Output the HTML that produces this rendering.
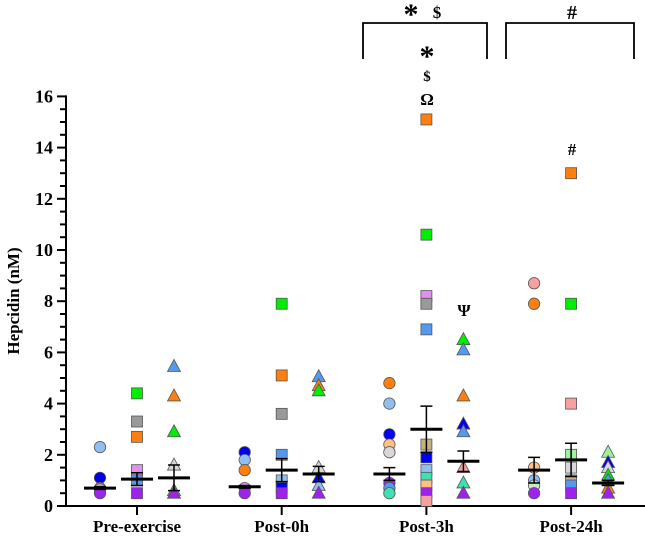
<!DOCTYPE html>
<html><head><meta charset="utf-8">
<style>
html,body{margin:0;padding:0;background:#fff;}
svg text{font-family:"Liberation Serif",serif;font-weight:bold;fill:#000;}
</style></head>
<body>
<svg id="chart" width="645" height="541" viewBox="0 0 645 541" xmlns="http://www.w3.org/2000/svg"></svg>
<script>
const categories = ["Pre-exercise","Post-0h","Post-3h","Post-24h"];
const yTicks = [0,2,4,6,8,10,12,14,16];
// each subgroup: [color, value]
const circles = [
 [["#8fbff0",2.3],["#0000ee",1.1],["#ff7f0e",0.7],["#aaaaaa",0.65],["#a020f0",0.5]],
 [["#0000ee",2.1],["#8fbff0",1.8],["#ff7f0e",1.4],["#e090f0",0.7],["#a020f0",0.5]],
 [["#ff7f0e",4.8],["#8fbff0",4.0],["#0000ee",2.8],["#ffc080",2.4],["#d8d8d8",2.1],["#a020f0",0.9],["#5599ee",0.7],["#40e0b0",0.5]],
 [["#f7a0a0",8.7],["#ff7f0e",7.9],["#ffc080",1.5],["#8fbff0",1.0],["#c8e8c8",0.8],["#a020f0",0.5]]
];
const squares = [
 [["#00ee00",4.4],["#999999",3.3],["#ff7f0e",2.7],["#e090f0",1.4],["#5599ee",1.0],["#a020f0",0.5]],
 [["#00ee00",7.9],["#ff7f0e",5.1],["#999999",3.6],["#5599ee",2.0],["#8fbff0",1.0],["#0000ee",0.7],["#a020f0",0.5]],
 [["#ff7f0e",15.1],["#00ee00",10.6],["#e090f0",8.2],["#999999",7.9],["#5599ee",6.9],["#c8b080",2.4],["#0000ee",1.9],["#8fbff0",1.4],["#40e0b0",1.1],["#ffc080",0.8],["#a020f0",0.5],["#f7a0a0",0.2]],
 [["#ff7f0e",13.0],["#00ee00",7.9],["#f7a0a0",4.0],["#a0f0a0",2.0],["#d8d8d8",1.5],["#c8b080",1.0],["#5599ee",0.8],["#a020f0",0.5]]
];
const triangles = [
 [["#5599ee",5.45],["#ff7f0e",4.3],["#00ee00",2.9],["#d8d8d8",1.6],["#999999",0.6],["#a020f0",0.5]],
 [["#5599ee",5.05],["#ff7f0e",4.7],["#00ee00",4.5],["#d8d8d8",1.5],["#0000ee",1.1],["#8fbff0",0.8],["#a020f0",0.5]],
 [["#00ee00",6.5],["#5599ee",6.1],["#ff7f0e",4.3],["#0000ee",3.2],["#5599ee",2.9],["#f7a0a0",1.5],["#40e0b0",0.9],["#a020f0",0.5]],
 [["#a0f0a0",2.1],["#0000ee",1.7],["#d8d8d8",1.5],["#00ee00",1.2],["#5599ee",1.0],["#ff7f0e",0.7],["#a020f0",0.5]]
];
const means = [[0.7,1.05,1.1],[0.75,1.4,1.25],[1.25,3.0,1.75],[1.4,1.8,0.9]];
const sems  = [[0.05,0.25,0.5],[0.05,0.45,0.3],[0.25,0.9,0.4],[0.5,0.65,0.1]];

const svg=document.getElementById('chart');
const NS="http://www.w3.org/2000/svg";
const X0=66, Y0=506, PX=25.6;
function y(v){return Y0-v*PX;}
function xc(i){return 137+i*144.7;}
function mk(tag,attrs){const e=document.createElementNS(NS,tag);for(const k in attrs)e.setAttribute(k,attrs[k]);svg.appendChild(e);return e;}

let ax=mk('line',{x1:X0,y1:y(16)-1,x2:X0,y2:Y0+1,stroke:'#000','stroke-width':2});


let xa=mk('line',{x1:X0-1,y1:Y0,x2:645,y2:Y0,stroke:'#000','stroke-width':2});


for(let v=0;v<=16.001;v+=0.5){
  const major=Math.abs(v-Math.round(v/2)*2)<1e-6;
  const t=mk('line',{x1:X0-(major?9:6),y1:y(v),x2:X0,y2:y(v),stroke:'#000','stroke-width':2});
  
  
}
yTicks.forEach(v=>{
  const t=mk('text',{x:X0-13,y:y(v)+6,'text-anchor':'end','font-size':18});
  t.textContent=v;
  
  
});
const yl=mk('text',{x:0,y:0,'text-anchor':'middle','font-size':17,transform:'translate(19,301) rotate(-90)'});
yl.textContent='Hepcidin (nM)';


categories.forEach((c,i)=>{
  const t=mk('line',{x1:xc(i),y1:Y0,x2:xc(i),y2:Y0+9,stroke:'#000','stroke-width':2});
  
  
  const l=mk('text',{x:xc(i),y:532,'text-anchor':'middle','font-size':17});
  l.textContent=c;
  
  
});
const OFF=37;
function drawPts(arr,shape,dx){
  arr.forEach((g,i)=>{
    g.forEach(([col,v])=>{
      const cx=xc(i)+dx, cy=y(v);
      let e;
      if(shape==='c') e=mk('circle',{cx:cx,cy:cy,r:5.7,fill:col,stroke:'#555','stroke-width':0.8});
      else if(shape==='s') e=mk('rect',{x:cx-5.5,y:cy-5.5,width:11,height:11,fill:col,stroke:'#555','stroke-width':0.8});
      else e=mk('polygon',{points:`${cx},${cy-7} ${cx-6.5},${cy+5} ${cx+6.5},${cy+5}`,fill:col,stroke:'#555','stroke-width':0.8});
      
      
    });
  });
}
drawPts(circles,'c',-OFF);
drawPts(squares,'s',0);
drawPts(triangles,'t',OFF);
means.forEach((g,i)=>{
  g.forEach((m,j)=>{
    const cx=xc(i)+(j-1)*OFF, s=sems[i][j];
    const ml=mk('line',{x1:cx-16,y1:y(m),x2:cx+16,y2:y(m),stroke:'#000','stroke-width':3});
    
    
    const el=mk('path',{d:`M${cx},${y(m+s)}V${y(m-s)}M${cx-6},${y(m+s)}H${cx+6}M${cx-6},${y(m-s)}H${cx+6}`,stroke:'#000','stroke-width':1.5,fill:'none'});
    
    
  });
});
function txt(x,yy,s,fs,name){const t=mk('text',{x:x,y:yy,'text-anchor':'middle','font-size':fs});t.textContent=s;}
let b1=mk('path',{d:'M363,59V23H487V59',stroke:'#000','stroke-width':1.8,fill:'none'});


let b2=mk('path',{d:'M506,59V23H634V59',stroke:'#000','stroke-width':1.8,fill:'none'});


txt(411,24,'*',30,'sig-star');
txt(437,18,'$',17,'sig-dollar');
txt(572,19,'#',20,'sig-hash');
txt(427,66,'*',30,'sig-star-3h');
txt(427,81,'$',15,'sig-dollar-3h');
txt(427,105,'Ω',17,'sig-omega-3h');
txt(464,316,'Ψ',17,'sig-psi-3h');
txt(572,155,'#',17,'sig-hash-24h');
</script>
</body></html>
